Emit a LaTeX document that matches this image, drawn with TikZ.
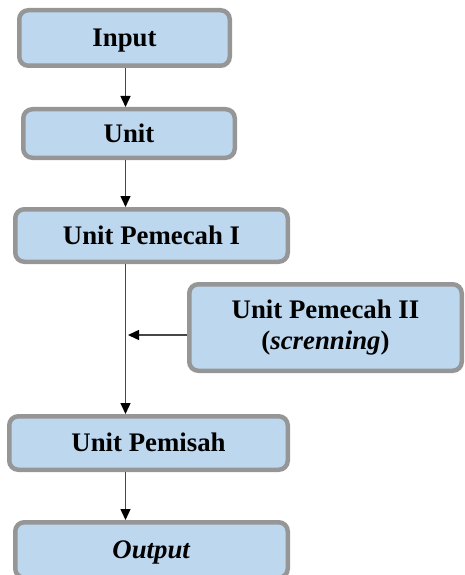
\documentclass[tikz,border=0pt]{standalone}
\usepackage{fontspec}
\setmainfont{Liberation Serif}
\usetikzlibrary{arrows.meta}
\definecolor{boxfill}{RGB}{189,215,238}
\definecolor{boxline}{RGB}{150,150,150}
\definecolor{arrline}{RGB}{70,70,70}
\tikzset{
  blk/.style={rectangle, rounded corners=9pt, draw=boxline, line width=4.5pt, fill=boxfill,
    inner sep=0pt, outer sep=2.25pt, align=center,
    font=\fontsize{26.8}{31}\selectfont\bfseries},
  arr/.style={draw=arrline, line width=1.4pt, -{Triangle[length=11pt,width=10pt,fill=black,color=black]}},
}
\begin{document}
\begin{tikzpicture}[x=1pt,y=-1pt]
\useasboundingbox (0,0) rectangle (465,575);
\clip (0,0) rectangle (465,575);
\node[blk, minimum width=210.5pt, minimum height=55.5pt, text height=17.7pt, text depth=0pt] (in) at (124.5,38) {Input};
\node[blk, minimum width=211.5pt, minimum height=48.5pt, text height=17.7pt, text depth=0pt] (unit) at (129,133.5) {Unit};
\node[blk, minimum width=272.5pt, minimum height=52.5pt, text height=17.7pt, text depth=0pt] (p1) at (151.5,235.5) {Unit Pemecah I};
\node[blk, minimum width=272.5pt, minimum height=86.5pt] (p2) at (325.5,327.5) {Unit Pemecah II\\(\textit{screnning})};
\node[blk, minimum width=278.5pt, minimum height=53.5pt, text height=17.7pt, text depth=0pt] (pm) at (148.5,443) {Unit Pemisah};
\node[blk, minimum width=272.5pt, minimum height=55.5pt, text height=17.7pt, text depth=0pt] (out) at (151.5,550) {\textit{Output}};
\coordinate (spine) at (125.5,0);
\coordinate (join) at (128,335);
\draw[arr] (in.south -| spine) -- (unit.north -| spine);
\draw[arr] (unit.south -| spine) -- (p1.north -| spine);
\draw[arr] (p1.south -| spine) -- (pm.north -| spine);
\draw[arr] (p2.west |- join) -- (join);
\draw[arr] (pm.south -| spine) -- (out.north -| spine);
\end{tikzpicture}
\end{document}
